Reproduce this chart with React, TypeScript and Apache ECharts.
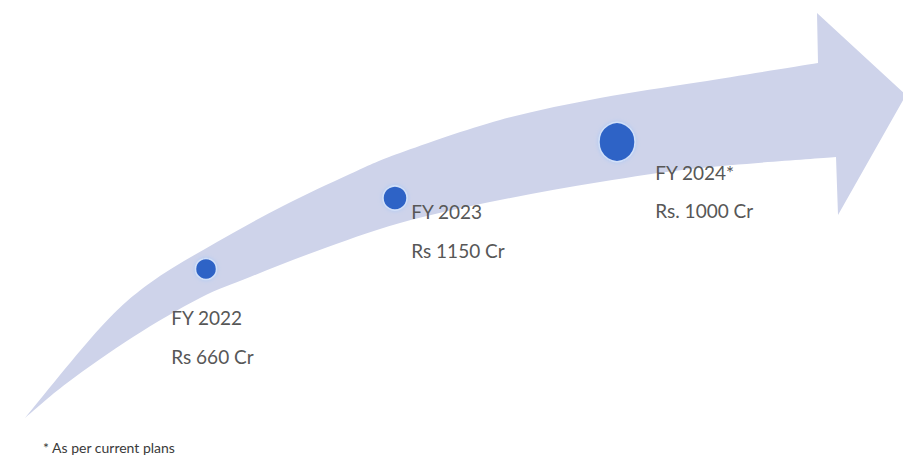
import React, { useEffect, useRef } from 'react';
import * as echarts from 'echarts';

// ---- data ----
const years = ['FY 2022', 'FY 2023', 'FY 2024*'];
const amountsCr = [660, 1150, 1000];
const amountPrefixes = ['Rs', 'Rs', 'Rs.'];
const footnote = '* As per current plans';

// ---- layout (pixel units of the hidden full-canvas axes) ----
const W = 903;
const H = 456;
const dotXY = [[206, 269], [395, 198], [617, 142]];
const dotSize = [[21, 21], [24, 24], [36, 39]];
const labelXY = [[172, 299], [412, 193], [656, 154]];
const upperEdge = [[25, 418], [100, 328], [150, 283], [217, 242], [283, 206], [350, 174], [400, 153], [500, 120], [600, 98], [700, 82], [818, 63]];
const headPts = [[817, 13], [906, 95], [838, 215]];
const lowerEdge = [[836, 157], [700, 168], [600, 182], [500, 200], [400, 223], [317, 251], [250, 277], [200, 298], [133, 337], [67, 383], [25, 418]];

const TEXT_COLOR = '#575757';
const FONT = 'Lato, "Open Sans", sans-serif';

function catmull(pts: number[][]): string {
  let d = '';
  for (let i = 0; i < pts.length - 1; i++) {
    const p0 = pts[i - 1] || pts[i];
    const p1 = pts[i];
    const p2 = pts[i + 1];
    const p3 = pts[i + 2] || p2;
    const c1 = [p1[0] + (p2[0] - p0[0]) / 6, p1[1] + (p2[1] - p0[1]) / 6];
    const c2 = [p2[0] - (p3[0] - p1[0]) / 6, p2[1] - (p3[1] - p1[1]) / 6];
    d += ` C${c1[0].toFixed(2)},${c1[1].toFixed(2)} ${c2[0].toFixed(2)},${c2[1].toFixed(2)} ${p2[0].toFixed(2)},${p2[1].toFixed(2)}`;
  }
  return d;
}

export default function App() {
  const ref = useRef<HTMLDivElement>(null);

  useEffect(() => {
    if (!ref.current) return;
    const chart = echarts.init(ref.current, null, { renderer: 'svg' });

    const scatterData = years.map((y, i) => {
      const [sw, sh] = dotSize[i];
      const left = dotXY[i][0] - sw / 2;
      const top = dotXY[i][1] - sh / 2;
      return {
        value: [dotXY[i][0], dotXY[i][1], amountsCr[i]],
        symbolSize: dotSize[i],
        label: {
          show: true,
          position: [labelXY[i][0] - left, labelXY[i][1] - top],
          align: 'left',
          verticalAlign: 'top',
          formatter: `{t|${y}}\n{t|${amountPrefixes[i]} ${amountsCr[i]} Cr}`,
          rich: {
            t: { fontSize: 19, fontFamily: FONT, color: TEXT_COLOR, lineHeight: 38.5 },
          },
        },
      };
    });

    const option: any = {
      animation: false,
      grid: { left: 0, right: 0, top: 0, bottom: 0 },
      xAxis: { type: 'value', min: 0, max: W, show: false },
      yAxis: { type: 'value', min: 0, max: H, inverse: true, show: false },
      series: [
        {
          type: 'custom',
          silent: true,
          z: 1,
          data: [[0, 0]],
          renderItem: (params: any, api: any) => {
            const c = (p: number[]) => api.coord(p);
            const up = upperEdge.map(c);
            const lo = lowerEdge.map(c);
            const hd = headPts.map(c);
            let d = `M${up[0][0]},${up[0][1]}` + catmull(up);
            hd.forEach((p: number[]) => { d += ` L${p[0]},${p[1]}`; });
            d += ` L${lo[0][0]},${lo[0][1]}` + catmull(lo) + ' Z';
            return {
              type: 'path',
              shape: { pathData: d },
              style: { fill: '#ced3ea' },
            };
          },
        },
        {
          type: 'scatter',
          z: 3,
          symbol: 'circle',
          itemStyle: {
            opacity: 1,
            color: '#2f63c6',
            borderColor: 'rgba(214,228,250,0.95)',
            borderWidth: 1.5,
            shadowBlur: 4,
            shadowColor: 'rgba(170,200,245,0.9)',
          },
          data: scatterData,
        },
      ],
      graphic: [
        {
          type: 'text',
          left: 43,
          top: 440,
          style: {
            text: footnote,
            fontSize: 14,
            fontFamily: FONT,
            fill: '#3a3a3a',
          },
        },
      ],
    };

    chart.setOption(option);
    return () => chart.dispose();
  }, []);

  return (
    <div
      ref={ref}
      style={{ position: 'fixed', left: 0, top: 0, width: W, height: H, background: '#ffffff' }}
    />
  );
}
